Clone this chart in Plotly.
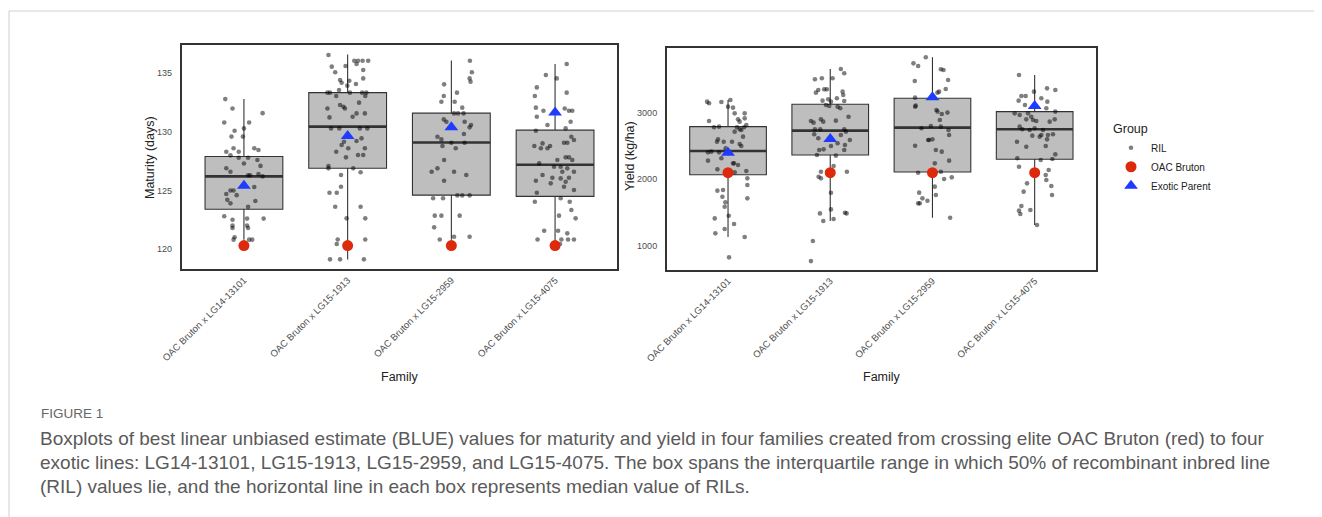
import plotly.graph_objects as go

# ---------------- data ----------------
families = ["OAC Bruton x LG14-13101", "OAC Bruton x LG15-1913",
            "OAC Bruton x LG15-2959", "OAC Bruton x LG15-4075"]
positions = [1, 2, 3, 4]

# Maturity (days) box statistics (RIL)
mat_q1 = [123.4, 126.9, 124.6, 124.5]
mat_median = [126.2, 130.45, 129.1, 127.2]
mat_q3 = [127.9, 133.35, 131.6, 130.15]
mat_lower = [120.8, 119.1, 120.8, 120.4]
mat_upper = [132.8, 136.6, 136.1, 135.8]
mat_bruton = [120.3, 120.3, 120.3, 120.3]
mat_exotic = [125.4, 129.65, 130.4, 131.65]

# Yield (kg/ha) box statistics (RIL)
yld_q1 = [2068, 2364, 2108, 2299]
yld_median = [2424, 2730, 2775, 2750]
yld_q3 = [2790, 3126, 3216, 3016]
yld_lower = [1130, 1371, 1421, 1311]
yld_upper = [3191, 3657, 3833, 3567]
yld_bruton = [2098, 2098, 2098, 2098]
yld_exotic = [2399, 2605, 3231, 3100]

# RIL values (maturity) and their jitter offsets, per family
mat_ril = [
    [132.8, 132.0, 131.6, 130.8, 130.8, 130.3, 130.1, 129.6, 129.6, 128.3, 128.6, 128.3, 128.6, 128.45,
     128.0, 127.8, 127.8, 127.6, 127.3, 127.1, 126.9, 126.6, 126.3, 126.3, 126.4, 126.2, 125.3, 125.0,
     125.0, 124.7, 124.6, 124.2, 124.1, 123.9, 123.6, 122.8, 122.5, 122.6, 122.6, 122.0, 122.0, 121.8,
     121.8, 121.0, 120.8, 120.8, 120.8],
    [136.57, 136.08, 136.08, 136.08, 136.08, 135.8, 135.57, 135.63, 135.09, 135.28, 134.43, 134.37, 134.2,
     134.09, 133.95, 134.57, 133.58, 133.35, 133.35, 133.35, 133.35, 133.35, 133.06, 133.06, 132.3, 132.15,
     132.0, 132.5, 132.0, 131.58, 131.58, 131.3, 131.24, 130.3, 130.3, 130.3, 130.3, 129.45, 129.22, 129.16,
     128.88, 128.6, 128.31, 128.6, 128.03, 128.03, 127.83, 127.09, 126.89, 126.89, 126.55, 126.32, 125.32,
     124.81, 124.81, 123.61, 123.61, 122.62, 122.62, 120.82, 120.43, 120.82, 119.12, 119.12, 119.12],
    [136.08, 135.09, 134.57, 134.29, 134.06, 133.35, 133.06, 132.58, 132.58, 132.07, 131.58, 131.58, 131.58,
     131.07, 130.87, 130.87, 130.59, 130.39, 129.82, 129.59, 129.36, 128.8, 129.08, 129.08, 128.6, 127.6,
     126.89, 126.6, 126.6, 126.32, 125.83, 124.33, 124.33, 124.58, 124.58, 124.58, 122.85, 122.85, 122.85,
     121.85, 120.82, 121.05, 121.05],
    [135.8, 134.86, 134.57, 133.8, 133.35, 133.06, 132.07, 131.81, 132.0, 131.81, 131.81, 131.3, 130.87,
     130.59, 130.3, 130.1, 129.59, 129.31, 128.8, 128.6, 129.02, 128.6, 128.8, 129.08, 129.08, 127.31,
     127.6, 127.83, 127.83, 127.6, 127.03, 127.03, 126.6, 126.89, 126.6, 126.32, 126.09, 126.03, 126.09,
     125.83, 125.75, 125.61, 125.32, 125.04, 124.81, 124.04, 124.33, 124.04, 123.33, 122.62, 122.85,
     121.56, 121.56, 121.34, 120.82, 120.82, 120.82, 120.82, 120.43],
]
mat_jitter = [
    [-0.18, -0.11, 0.18, -0.19, 0.05, 0.0, -0.09, -0.12, -0.01, -0.17, -0.10, -0.05, 0.10, 0.14, -0.13,
     0.04, -0.05, 0.13, 0.0, 0.16, -0.17, -0.13, 0.06, 0.04, 0.14, 0.18, 0.10, -0.10, -0.13, -0.17, -0.07,
     -0.16, 0.11, -0.13, 0.04, -0.19, -0.11, 0.03, 0.19, -0.11, 0.03, -0.11, 0.04, -0.09, -0.10, 0.05, 0.08],
    [-0.185, 0.064, 0.10, 0.144, 0.198, 0.086, -0.153, -0.02, -0.12, 0.15, -0.073, 0.016, -0.058, 0.08,
     -0.003, 0.15, -0.083, -0.195, -0.17, 0.022, 0.14, 0.18, -0.11, 0.17, -0.073, -0.04, -0.026, 0.11,
     -0.195, 0.086, 0.166, 0.048, -0.175, -0.16, -0.08, 0.19, 0.118, 0.134, 0.086, -0.035, -0.058, 0.006,
     -0.11, 0.166, 0.15, 0.10, -0.016, -0.185, -0.185, 0.054, 0.125, -0.064, -0.064, -0.175, -0.105, -0.12,
     0.125, -0.01, 0.17, -0.096, -0.105, 0.17, -0.17, -0.073, 0.157],
    [0.179, 0.198, 0.176, 0.185, -0.07, 0.054, -0.073, -0.096, 0.032, 0.105, 0.026, 0.064, 0.118, -0.073,
     -0.048, 0.128, 0.19, 0.176, 0.121, -0.134, -0.096, -0.086, 0.0, 0.128, 0.042, -0.07, -0.134, -0.19,
     0.026, 0.144, -0.07, -0.176, -0.08, 0.058, 0.105, 0.176, -0.16, -0.096, 0.08, -0.166, -0.112, 0.026,
     0.176],
    [0.112, -0.089, 0.016, -0.176, 0.112, -0.195, -0.185, -0.112, 0.093, 0.134, 0.166, -0.176, 0.15, -0.073,
     0.102, -0.185, 0.157, 0.182, -0.2, -0.137, -0.121, -0.073, -0.048, 0.086, 0.118, -0.153, 0.022, 0.102,
     0.134, 0.166, -0.01, 0.054, 0.182, 0.118, 0.07, -0.121, -0.026, 0.054, 0.134, -0.185, 0.102, -0.042,
     0.086, 0.182, -0.176, -0.195, 0.054, 0.141, 0.157, 0.198, 0.038, -0.105, 0.029, 0.118, -0.169, 0.061,
     0.125, 0.182, 0.048],
]

# RIL values (yield) and their jitter offsets, per family
yld_ril = [
    [3166, 3141, 3161, 3191, 3091, 3076, 2990, 2990, 2875, 2900, 2865, 2915, 2780, 2790, 2780, 2780, 2815,
     2740, 2715, 2750, 2640, 2599, 2564, 2564, 2564, 2529, 2499, 2414, 2404, 2404, 2464, 2314, 2279, 2238,
     2213, 2238, 2148, 2123, 2103, 2013, 1913, 1828, 1838, 1712, 1737, 1652, 1587, 1451, 1411, 1326, 1251,
     1186, 1130, 825],
    [3657, 3592, 3502, 3517, 3517, 3301, 3341, 3351, 3351, 3316, 3266, 3216, 3181, 3201, 3166, 3176, 3116,
     3101, 3091, 3066, 2940, 2875, 2850, 2900, 2865, 2880, 2750, 2750, 2750, 2715, 2675, 2615, 2665, 2590,
     2540, 2514, 2499, 2439, 2449, 2439, 2364, 2354, 2198, 2113, 2038, 2013, 2113, 1797, 1546, 1486, 1496,
     1486, 1371, 1401, 1070, 769],
    [3833, 3742, 3702, 3652, 3642, 3477, 3492, 3356, 3316, 3301, 3226, 3106, 3091, 3041, 3001, 2980, 3016,
     2890, 2765, 2800, 2790, 2740, 2665, 2599, 2589, 2589, 2504, 2439, 2414, 2279, 2238, 2098, 2113, 2003,
     2028, 1888, 1798, 1762, 1712, 1677, 1637, 1637, 1421],
    [3567, 3316, 3366, 3341, 3251, 3251, 3181, 3216, 3166, 3116, 3066, 3016, 2990, 2965, 2990, 2940, 2900,
     2890, 2875, 2865, 2900, 2790, 2750, 2740, 2765, 2740, 2665, 2655, 2665, 2675, 2640, 2599, 2564, 2499,
     2489, 2374, 2314, 2188, 2288, 2304, 2138, 2063, 1988, 1938, 1898, 1813, 1762, 1597, 1527, 1476, 1537,
     1311],
]
yld_jitter = [
    [-0.205, -0.186, -0.065, 0.023, 0.0, 0.049, 0.065, 0.163, -0.186, 0.098, 0.114, 0.163, -0.137, -0.088,
     0.088, 0.157, 0.179, 0.13, 0.065, 0.114, 0.147, -0.098, -0.108, -0.042, 0.039, 0.114, 0.13, -0.163,
     -0.196, -0.088, -0.023, -0.065, -0.196, 0.059, 0.098, 0.049, -0.104, 0.179, 0.065, 0.189, 0.189,
     -0.104, -0.049, 0.189, -0.055, -0.026, -0.033, 0.007, -0.13, 0.059, -0.033, -0.124, 0.163, 0.01],
    [0.104, 0.137, -0.15, -0.082, 0.023, -0.14, -0.117, -0.059, -0.033, 0.121, 0.127, 0.065, -0.075, -0.02,
     0.007, 0.137, -0.042, -0.01, 0.072, 0.098, 0.179, -0.189, -0.163, -0.091, -0.068, 0.055, -0.15, -0.098,
     0.137, 0.153, -0.157, -0.117, 0.104, 0.192, 0.072, 0.144, 0.007, -0.108, -0.065, 0.137, -0.13, 0.055,
     0.033, -0.091, -0.114, -0.091, 0.163, 0.007, 0.007, -0.101, 0.144, 0.16, -0.068, 0.033, -0.17, -0.189],
    [-0.065, -0.186, -0.14, 0.082, 0.108, -0.173, 0.153, 0.13, 0.065, 0.049, -0.17, -0.163, -0.17, 0.039,
     0.147, 0.091, 0.049, 0.072, -0.108, -0.016, 0.082, 0.157, 0.163, 0.0, -0.033, -0.042, -0.17, 0.033,
     0.091, 0.163, 0.023, -0.14, 0.082, 0.114, 0.189, 0.023, -0.13, 0.033, -0.098, -0.049, -0.14, -0.124,
     0.173],
    [-0.153, -0.007, 0.121, 0.202, -0.13, -0.088, -0.157, 0.065, 0.124, -0.095, 0.114, 0.202, -0.196, -0.147,
     -0.065, -0.033, -0.082, -0.016, 0.016, 0.147, 0.196, -0.147, -0.121, -0.049, 0.0, 0.082, 0.065, -0.023,
     0.13, 0.179, 0.049, 0.121, -0.173, 0.108, -0.082, 0.202, -0.17, -0.153, 0.059, 0.173, 0.137, 0.108,
     0.114, -0.075, 0.163, -0.108, 0.17, -0.13, -0.153, -0.14, -0.042, 0.023],
]

y_ticks_mat = [120, 125, 130, 135]
y_ticks_yld = [1000, 2000, 3000]

caption_head = "FIGURE 1"
caption_lines = [
    "Boxplots of best linear unbiased estimate (BLUE) values for maturity and yield in four families created from crossing elite OAC Bruton (red) to four",
    "exotic lines: LG14-13101, LG15-1913, LG15-2959, and LG15-4075. The box spans the interquartile range in which 50% of recombinant inbred line",
    "(RIL) values lie, and the horizontal line in each box represents median value of RILs.",
]

# ---------------- figure ----------------
W, H = 1322, 517
OFF = 8  # page body margin offset
FONT = "Liberation Sans, Arial, sans-serif"
BOX_W = 0.75
RIL_COLOR = "rgba(0,0,0,0.5)"
RED = "#dd2a0c"
BLUE = "#1f3bff"
EDGE = "#333333"


def fx(p):
    return (p - OFF) / W


def fy(p):
    return 1 - (p - OFF) / H


fig = go.Figure()

panels = [
    dict(xa="x", ya="y", q1=mat_q1, med=mat_median, q3=mat_q3, lo=mat_lower, hi=mat_upper,
         ril=mat_ril, jit=mat_jitter, bruton=mat_bruton, exotic=mat_exotic, legend=True),
    dict(xa="x2", ya="y2", q1=yld_q1, med=yld_median, q3=yld_q3, lo=yld_lower, hi=yld_upper,
         ril=yld_ril, jit=yld_jitter, bruton=yld_bruton, exotic=yld_exotic, legend=False),
]

for p in panels:
    fig.add_trace(go.Box(
        x=positions, q1=p["q1"], median=p["med"], q3=p["q3"],
        lowerfence=p["lo"], upperfence=p["hi"], width=BOX_W,
        fillcolor="#bebebe", line=dict(color=EDGE, width=1.1), whiskerwidth=0,
        boxpoints=False, showlegend=False, hoverinfo="skip",
        xaxis=p["xa"], yaxis=p["ya"]))
    # thicker median lines (as in ggplot)
    mx, my = [], []
    for pos, m in zip(positions, p["med"]):
        mx += [pos - BOX_W / 2, pos + BOX_W / 2, None]
        my += [m, m, None]
    fig.add_trace(go.Scatter(x=mx, y=my, mode="lines", line=dict(color=EDGE, width=2.6),
                             showlegend=False, hoverinfo="skip", xaxis=p["xa"], yaxis=p["ya"]))
    # jittered RIL points
    rx, ry = [], []
    for pos, vals, jit in zip(positions, p["ril"], p["jit"]):
        rx += [pos + j for j in jit]
        ry += vals
    fig.add_trace(go.Scatter(x=rx, y=ry, mode="markers", name="RIL", legendgroup="RIL",
                             showlegend=p["legend"],
                             marker=dict(color=RIL_COLOR, size=4.6, line=dict(width=0)),
                             xaxis=p["xa"], yaxis=p["ya"]))

for p in panels:
    fig.add_trace(go.Scatter(x=positions, y=p["bruton"], mode="markers", name="OAC Bruton",
                             legendgroup="OAC", showlegend=p["legend"],
                             marker=dict(color=RED, size=11, line=dict(width=0)),
                             xaxis=p["xa"], yaxis=p["ya"]))
for p in panels:
    fig.add_trace(go.Scatter(x=positions, y=p["exotic"], mode="markers", name="Exotic Parent",
                             legendgroup="EXO", showlegend=p["legend"],
                             marker=dict(color=BLUE, size=12, symbol="triangle-up", line=dict(width=0)),
                             xaxis=p["xa"], yaxis=p["ya"]))

common_x = dict(range=[0.4, 4.6], tickvals=positions, ticktext=families, tickangle=-45,
                tickfont=dict(size=9.5, color="#4d4d4d", family=FONT), showgrid=False,
                zeroline=False, showline=True, mirror=True, linecolor=EDGE, linewidth=1.5,
                ticks="", fixedrange=True, automargin=False)
common_y = dict(showgrid=False, zeroline=False, showline=True, mirror=True, linecolor=EDGE,
                linewidth=1.5, ticks="", ticklabelstandoff=6, automargin=False,
                tickfont=dict(size=9, color="#4d4d4d", family=FONT))

fig.update_layout(
    width=W, height=H, margin=dict(l=0, r=0, t=0, b=0, autoexpand=False),
    paper_bgcolor="white", plot_bgcolor="white",
    font=dict(family=FONT, color="#222222"),
    xaxis=dict(domain=[fx(181.7), fx(617.3)], anchor="y", **common_x),
    yaxis=dict(domain=[fy(269.3), fy(45)], anchor="x", range=[118.27, 137.42],
               tickvals=y_ticks_mat, **common_y),
    xaxis2=dict(domain=[fx(666.7), fx(1096)], anchor="y2", **common_x),
    yaxis2=dict(domain=[fy(270), fy(48.3)], anchor="x2", range=[635, 3968],
                tickvals=y_ticks_yld, **common_y),
    legend=dict(x=fx(1111), y=fy(117), xanchor="left", yanchor="top",
                title=dict(text="Group", font=dict(size=12.5, color="#222222")),
                font=dict(size=10, color="#222222"), itemwidth=30,
                bgcolor="rgba(0,0,0,0)", tracegroupgap=0),
    showlegend=True,
)

annotations = [
    dict(text="Maturity (days)", x=fx(150), y=fy(158), textangle=-90),
    dict(text="Yield (kg/ha)", x=fx(630), y=fy(156), textangle=-90),
    dict(text="Family", x=fx(400), y=fy(377)),
    dict(text="Family", x=fx(882), y=fy(377)),
]
for a in annotations:
    fig.add_annotation(xref="paper", yref="paper", showarrow=False, xanchor="center",
                       yanchor="middle", font=dict(size=12.5, color="#222222", family=FONT), **a)

fig.add_annotation(xref="paper", yref="paper", showarrow=False, xanchor="left", yanchor="middle",
                   x=fx(39), y=fy(413), text=caption_head,
                   font=dict(size=13.5, color="#666666", family=FONT))
for i, line in enumerate(caption_lines):
    fig.add_annotation(xref="paper", yref="paper", showarrow=False, xanchor="left", yanchor="middle",
                       x=fx(38), y=fy(438 + 24 * i), text=line,
                       font=dict(size=19, color="#5a5a5a", family=FONT))

# page frame lines (light gray)
fig.add_shape(type="line", xref="paper", yref="paper", x0=fx(9), x1=1, y0=fy(11), y1=fy(11),
              line=dict(color="#d0d0d0", width=1))
fig.add_shape(type="line", xref="paper", yref="paper", x0=fx(9), x1=fx(9), y0=fy(11), y1=0,
              line=dict(color="#d0d0d0", width=1))

fig.write_html("out.html")
